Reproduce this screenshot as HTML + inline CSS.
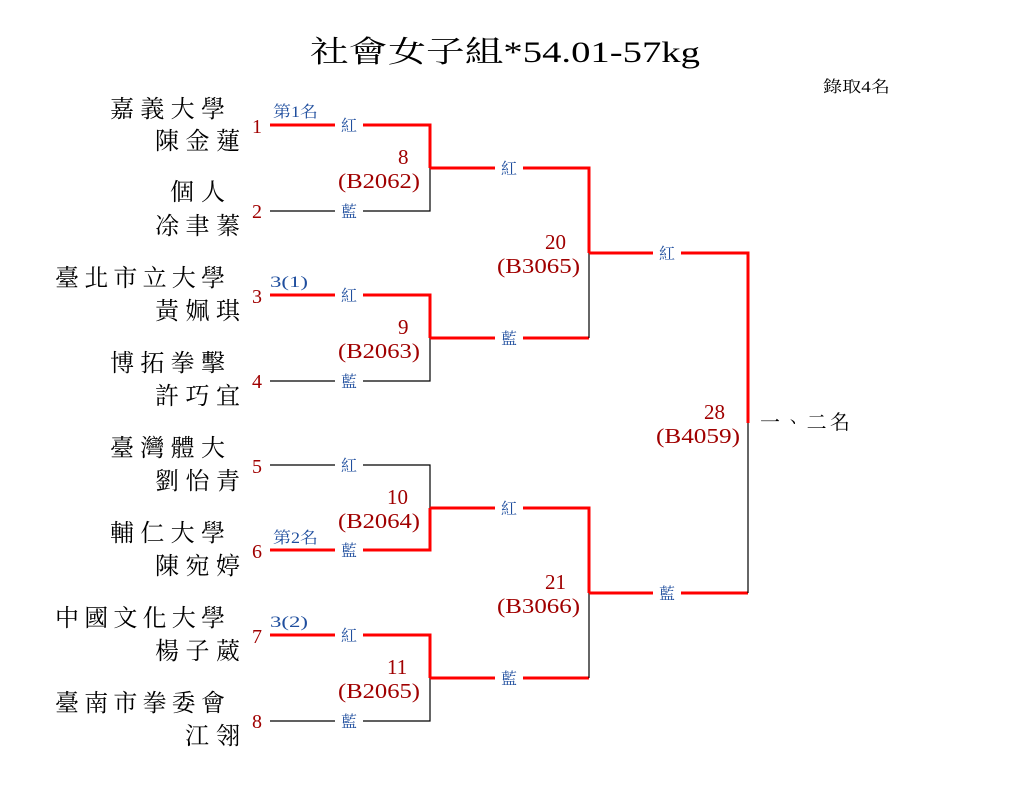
<!DOCTYPE html>
<html><head><meta charset="utf-8"><style>
body{margin:0;background:#fff}
svg{display:block}
text{font-family:"Liberation Serif","Noto Serif CJK TC","Noto Serif CJK SC",serif}
.n{font-size:24px;fill:#000}
.s{font-size:20px;fill:#a00000;text-anchor:middle}
.c{font-size:16px;fill:#1f4e9e;text-anchor:middle}
.m{font-size:21px;fill:#a00000}
.r{stroke:#ff0000;stroke-width:3;fill:none}
.b{stroke:#000;stroke-width:1.2;fill:none}
</style></head><body>
<svg width="1010" height="805" viewBox="0 0 1010 805">
<rect width="1010" height="805" fill="#fff"/>
<text x="310" y="62" font-size="30" textLength="390" lengthAdjust="spacingAndGlyphs">社會女子組*54.01-57kg</text>
<text x="823" y="92" font-size="16" textLength="67" lengthAdjust="spacingAndGlyphs">錄取4名</text>

<!-- names -->
<text class="n" x="110" y="117" textLength="115">嘉義大學</text><text class="n" x="155" y="149" textLength="85">陳金蓮</text>
<text class="n" x="170" y="200" textLength="55">個人</text><text class="n" x="155" y="234" textLength="85">凃聿蓁</text>
<text class="n" x="55" y="286" textLength="170">臺北市立大學</text><text class="n" x="155" y="319" textLength="85">黃姵琪</text>
<text class="n" x="110" y="371" textLength="115">博拓拳擊</text><text class="n" x="155" y="404" textLength="85">許巧宜</text>
<text class="n" x="110" y="456" textLength="115">臺灣體大</text><text class="n" x="155" y="489" textLength="85">劉怡青</text>
<text class="n" x="110" y="541" textLength="115">輔仁大學</text><text class="n" x="155" y="574" textLength="85">陳宛婷</text>
<text class="n" x="55" y="626" textLength="170">中國文化大學</text><text class="n" x="155" y="659" textLength="85">楊子葳</text>
<text class="n" x="55" y="711" textLength="170">臺南市拳委會</text><text class="n" x="185" y="744" textLength="55">江翎</text>

<!-- seeds -->
<text class="s" x="257" y="133">1</text><text class="s" x="257" y="218">2</text>
<text class="s" x="257" y="303">3</text><text class="s" x="257" y="388">4</text>
<text class="s" x="257" y="473">5</text><text class="s" x="257" y="558">6</text>
<text class="s" x="257" y="643">7</text><text class="s" x="257" y="728">8</text>

<text class="c" x="273" y="117" style="text-anchor:start" textLength="45" lengthAdjust="spacingAndGlyphs">第1名</text>
<text class="c" x="270" y="287" style="text-anchor:start" textLength="38" lengthAdjust="spacingAndGlyphs">3(1)</text>
<text class="c" x="273" y="543" style="text-anchor:start" textLength="45" lengthAdjust="spacingAndGlyphs">第2名</text>
<text class="c" x="270" y="627" style="text-anchor:start" textLength="38" lengthAdjust="spacingAndGlyphs">3(2)</text>

<!-- round 1 lines -->
<path class="r" d="M270 125H335M363 125H430V168"/>
<path class="b" d="M270 211H335M363 211H430V168"/>
<path class="r" d="M270 295H335M363 295H430V338"/>
<path class="b" d="M270 381H335M363 381H430V338"/>
<path class="b" d="M270 465H335M363 465H430V508"/>
<path class="r" d="M270 550H335M363 550H430V508"/>
<path class="r" d="M270 635H335M363 635H430V678"/>
<path class="b" d="M270 721H335M363 721H430V678"/>
<text class="c" x="349" y="131">紅</text><text class="c" x="349" y="217">藍</text>
<text class="c" x="349" y="301">紅</text><text class="c" x="349" y="387">藍</text>
<text class="c" x="349" y="471">紅</text><text class="c" x="349" y="556">藍</text>
<text class="c" x="349" y="641">紅</text><text class="c" x="349" y="727">藍</text>

<!-- round 2 -->
<path class="r" d="M430 168H495M523 168H589V253"/>
<path class="r" d="M430 338H495M523 338H589"/><path class="b" d="M589 338V253"/>
<path class="r" d="M430 508H495M523 508H589V593"/>
<path class="r" d="M430 678H495M523 678H589"/><path class="b" d="M589 678V593"/>
<text class="c" x="509" y="174">紅</text><text class="c" x="509" y="344">藍</text>
<text class="c" x="509" y="514">紅</text><text class="c" x="509" y="684">藍</text>

<!-- final -->
<path class="r" d="M589 253H653M681 253H748V423"/>
<path class="r" d="M589 593H653M681 593H748"/><path class="b" d="M748 593V423"/>
<text class="c" x="667" y="259">紅</text><text class="c" x="667" y="599">藍</text>
<text x="760" y="429" font-size="20" fill="#000" textLength="90">一、二名</text>

<!-- match labels -->
<text class="m" x="398" y="164">8</text><text class="m" x="338" y="188" textLength="82" lengthAdjust="spacingAndGlyphs">(B2062)</text>
<text class="m" x="398" y="334">9</text><text class="m" x="338" y="358" textLength="82" lengthAdjust="spacingAndGlyphs">(B2063)</text>
<text class="m" x="387" y="504">10</text><text class="m" x="338" y="528" textLength="82" lengthAdjust="spacingAndGlyphs">(B2064)</text>
<text class="m" x="387" y="674">11</text><text class="m" x="338" y="698" textLength="82" lengthAdjust="spacingAndGlyphs">(B2065)</text>
<text class="m" x="545" y="249">20</text><text class="m" x="497" y="273" textLength="83" lengthAdjust="spacingAndGlyphs">(B3065)</text>
<text class="m" x="545" y="589">21</text><text class="m" x="497" y="613" textLength="83" lengthAdjust="spacingAndGlyphs">(B3066)</text>
<text class="m" x="704" y="419">28</text><text class="m" x="656" y="443" textLength="84" lengthAdjust="spacingAndGlyphs">(B4059)</text>
</svg>
</body></html>
